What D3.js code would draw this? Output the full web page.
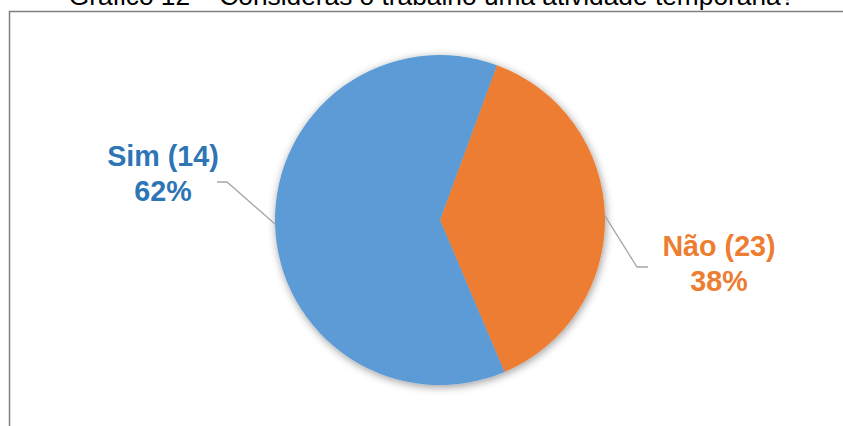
<!DOCTYPE html>
<html><head><meta charset="utf-8">
<script src="https://cdn.jsdelivr.net/npm/d3@7"></script>
<style>html,body{margin:0;padding:0;background:#fff;}svg{display:block;font-family:"Liberation Sans",Arial,sans-serif;}</style>
</head><body>
<script>
const title = "Gráfico 12 – Consideras o trabalho uma atividade temporária?";
const categories = ["Não (23)", "Sim (14)"];
const percents = [38, 62];
const percentLabels = ["38%", "62%"];
const colors = ["#ED7D31", "#5B9BD5"];
const labelColors = ["#ED7D31", "#2E75B6"];

const W = 843, H = 426;
const svg = d3.select("body").append("svg").attr("width", W).attr("height", H);

const defs = svg.append("defs");
const f = defs.append("filter").attr("id","sh").attr("x","-20%").attr("y","-20%").attr("width","140%").attr("height","140%");
f.append("feGaussianBlur").attr("in","SourceAlpha").attr("stdDeviation",4).attr("result","b");
f.append("feOffset").attr("in","b").attr("dx",1).attr("dy",2).attr("result","o");
f.append("feComponentTransfer").attr("in","o").attr("result","oc").append("feFuncA").attr("type","linear").attr("slope",0.4);
const m = f.append("feMerge"); m.append("feMergeNode").attr("in","oc"); m.append("feMergeNode").attr("in","SourceGraphic");

// frame
svg.append("path").attr("d", `M9.5,${H} V11.5 H${W}`).attr("fill","none").attr("stroke","#7f7f7f").attr("stroke-width",1.5);

// title
svg.append("text").attr("x", 432).attr("y", 5).attr("text-anchor","middle")
  .attr("font-size", 26.3).attr("fill","#000").text(title);

const cx = 440, cy = 220, r = 165;
const g = svg.append("g").attr("transform", `translate(${cx},${cy})`);
const startDeg = 20.2;
const pie = d3.pie().sort(null).value(d => d)
  .startAngle(startDeg*Math.PI/180).endAngle(startDeg*Math.PI/180 + 2*Math.PI);
const arcs = pie(percents);
const arc = d3.arc().innerRadius(0).outerRadius(r);
const gp = g.append("g").attr("filter","url(#sh)");
gp.selectAll("path").data(arcs).join("path").attr("d", arc).attr("fill", (d,i)=>colors[i]);

// leader lines and labels
const labelPos = [{x: 719, y: 256, lineEnd: [[637-cx,267-cy],[648-cx,267-cy]]},
                  {x: 163, y: 166, lineEnd: [[227-cx,182-cy],[217-cx,182-cy]]}];
arcs.forEach((d,i) => {
  const a = (d.startAngle + d.endAngle)/2;
  const p0 = [Math.sin(a)*r, -Math.cos(a)*r];
  const pts = [p0, ...labelPos[i].lineEnd];
  g.append("path").attr("d", d3.line()(pts)).attr("fill","none").attr("stroke","#A6A6A6").attr("stroke-width",1.3);
  const t = svg.append("text").attr("text-anchor","middle").attr("font-weight","bold").attr("font-size",28.7).attr("fill",labelColors[i]);
  t.append("tspan").attr("x", labelPos[i].x).attr("y", labelPos[i].y).text(categories[i]);
  t.append("tspan").attr("x", labelPos[i].x).attr("y", labelPos[i].y + 35).text(percentLabels[i]);
});
</script>
</body></html>
